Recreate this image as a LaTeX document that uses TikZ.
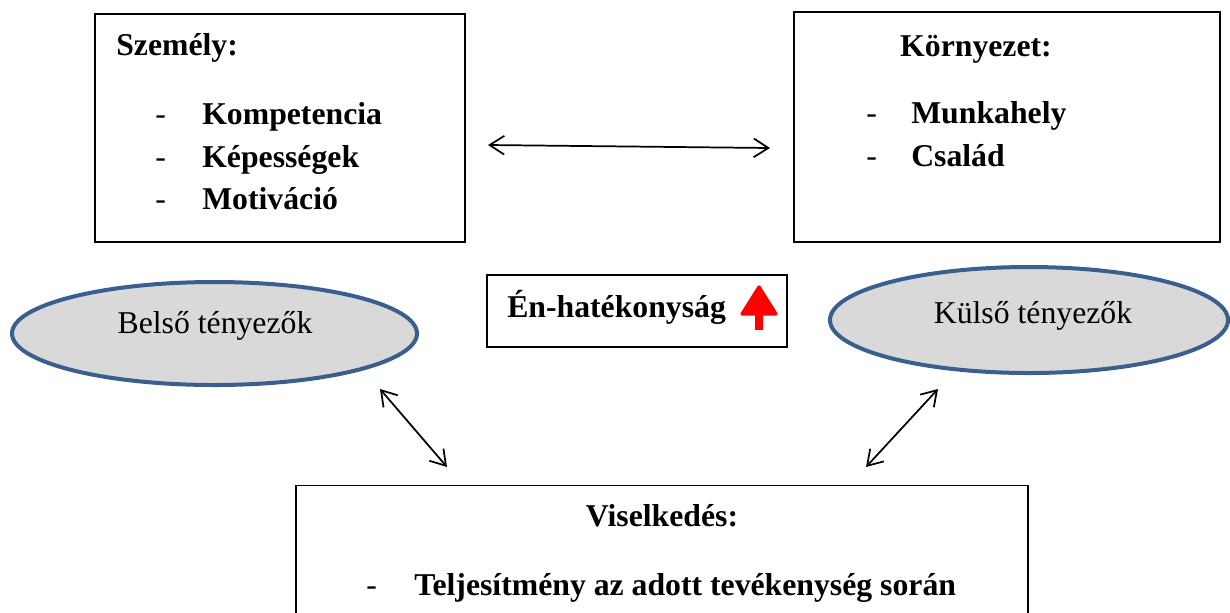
\documentclass[tikz,border=0pt]{standalone}
\usepackage{fontspec}
\setmainfont{Liberation Serif}
\usetikzlibrary{arrows.meta,shapes.geometric}
\definecolor{ellblue}{HTML}{3A5F8F}
\definecolor{ellgray}{HTML}{D9D9D9}
\begin{document}
\begin{tikzpicture}[x=0.75pt,y=-0.75pt,
  box/.style={draw=black, line width=0.9pt, inner sep=0pt},
  ell/.style={ellipse, draw=ellblue, line width=3pt, fill=ellgray, inner sep=0pt},
  txt/.style={font=\fontsize{23.8}{28}\selectfont, inner sep=0pt, anchor=base west},
  btxt/.style={txt, font=\fontsize{23.8}{28}\selectfont\bfseries},
  ctxt/.style={btxt, anchor=base},
  dbl/.style={{Straight Barb[length=11pt,width=14pt]}-{Straight Barb[length=11pt,width=14pt]}, line width=1.3pt}]
\useasboundingbox (0,0) rectangle (1230,612);
% boxes
\node[box, minimum width=277.5pt, minimum height=171pt] (szemely) at (280,128) {};
\node[box, minimum width=319.5pt, minimum height=172.5pt] (kornyezet) at (1007,127) {};
\node[box, minimum width=225pt, minimum height=54pt] (en) at (637,311) {};
\node[box, minimum width=549pt, minimum height=100pt] (viselk) at (662,552) {};
% ellipses
\node[ell, minimum width=303.75pt, minimum height=77.25pt] (belso) at (214.5,333.5) {};
\node[ell, minimum width=298.5pt, minimum height=79.5pt] (kulso) at (1029,320) {};
% texts
\node[btxt] (t1) at (116,55) {Személy:};
\node[txt] (d1) at (155,124) {-};
\node[btxt] (i1) at (202,124) {Kompetencia};
\node[txt] (d2) at (155,167) {-};
\node[btxt] (i2) at (202,167) {Képességek};
\node[txt] (d3) at (155,209) {-};
\node[btxt] (i3) at (202,209) {Motiváció};
\node[ctxt] (t2) at (976,56) {Környezet:};
\node[txt] (d4) at (866,123) {-};
\node[btxt] (i4) at (911,123) {Munkahely};
\node[txt] (d5) at (866,166) {-};
\node[btxt] (i5) at (911,166) {Család};
\node[btxt] (t3) at (507,317) {Én-hatékonyság};
\node[txt, anchor=base] (t4) at (215,333) {Belső tényezők};
\node[txt, anchor=base] (t5) at (1033,323) {Külső tényezők};
\node[ctxt] (t6) at (662,526) {Viselkedés:};
\node[txt] (d6) at (366,595) {-};
\node[btxt] (i6) at (414,595) {Teljesítmény az adott tevékenység során};
% red arrow
\fill[red, draw=red, line width=2.5pt, line join=round] (759,287) -- (776,314) -- (742,314) -- cycle;
\fill[red] (755,308) rectangle (763,330);
% connectors
\coordinate (a1) at (488,145);
\coordinate (a2) at (770,148);
\coordinate (b1) at (380,389);
\coordinate (b2) at (447,467);
\coordinate (c1) at (938,389);
\coordinate (c2) at (866,467);
\draw[dbl] (a1) -- (a2);
\draw[dbl] (b1) -- (b2);
\draw[dbl] (c1) -- (c2);
\end{tikzpicture}
\end{document}
